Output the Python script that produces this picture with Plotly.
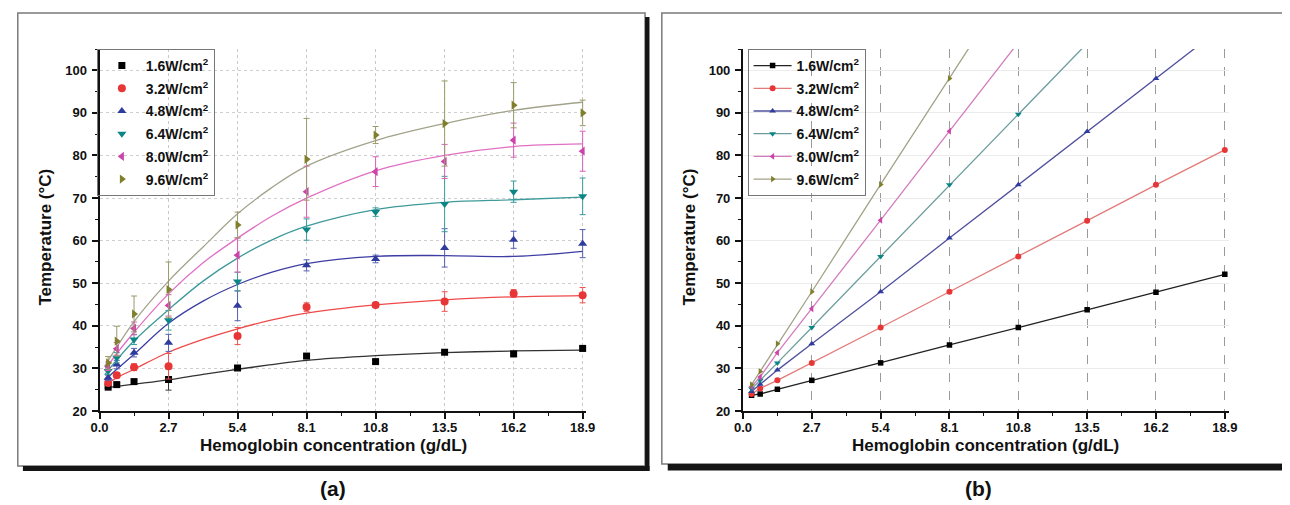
import plotly.graph_objects as go

W, H = 1290, 505
OX, OY = 8, 8          # page body margin offset of the plot div
FONT = "Liberation Sans, Arial, sans-serif"

# ---------------- data ----------------
hb = [0.3375, 0.675, 1.35, 2.7, 5.4, 8.1, 10.8, 13.5, 16.2, 18.9]
labels = ["1.6W/cm<sup>2</sup>", "3.2W/cm<sup>2</sup>", "4.8W/cm<sup>2</sup>",
          "6.4W/cm<sup>2</sup>", "8.0W/cm<sup>2</sup>", "9.6W/cm<sup>2</sup>"]
x_ticks = [0.0, 2.7, 5.4, 8.1, 10.8, 13.5, 16.2, 18.9]
x_ticktext = ["0.0", "2.7", "5.4", "8.1", "10.8", "13.5", "16.2", "18.9"]
y_ticks = [20, 30, 40, 50, 60, 70, 80, 90, 100]
y_ticktext = ["20", "30", "40", "50", "60", "70", "80", "90", "100"]

# panel (a): measured temperatures
a_16 = [25.6, 26.2, 26.9, 27.4, 30.1, 32.9, 31.6, 33.8, 33.4, 34.7]
a_32 = [26.6, 28.4, 30.3, 30.5, 37.6, 44.4, 44.9, 45.7, 47.6, 47.2]
a_48 = [27.8, 30.9, 33.7, 36.0, 44.7, 54.2, 55.7, 58.3, 60.2, 59.3]
a_64 = [29.4, 32.5, 36.8, 41.3, 50.4, 62.6, 66.7, 68.6, 71.5, 70.4]
a_80 = [30.5, 34.6, 39.4, 44.8, 56.6, 71.5, 76.2, 78.6, 83.6, 81.0]
a_96 = [31.3, 36.4, 42.8, 48.5, 63.7, 79.1, 84.8, 87.5, 91.8, 90.0]
# panel (a): error bars
e_16 = [0.4, 0.4, 0.5, 2.5, 0.4, 0.5, 0.5, 0.5, 0.5, 0.6]
e_32 = [0.5, 0.6, 0.8, 3.0, 2.0, 1.0, 0.6, 2.3, 0.9, 1.8]
e_48 = [0.6, 1.0, 1.0, 2.0, 3.5, 1.3, 0.9, 4.5, 2.0, 3.3]
e_64 = [0.8, 1.2, 1.2, 2.3, 2.2, 2.5, 1.0, 6.5, 2.5, 4.3]
e_80 = [1.0, 1.5, 1.5, 2.5, 4.0, 6.0, 3.5, 4.0, 4.0, 4.7]
e_96 = [1.5, 3.5, 4.2, 6.5, 3.0, 9.6, 2.0, 10.0, 5.3, 3.0]
# panel (a): fitted curves
fit_x = [0.2, 0.675, 1.35, 2.7, 4.05, 5.4, 6.75, 8.1, 10.8, 13.5, 16.2, 18.9]
f_16 = [25.4, 25.8, 26.3, 27.3, 28.6, 29.8, 30.9, 31.9, 33.0, 33.7, 34.1, 34.3]
f_32 = [26.0, 27.8, 29.8, 33.8, 36.8, 39.3, 41.4, 43.0, 44.9, 46.1, 46.8, 47.1]
f_48 = [27.2, 29.8, 33.3, 40.6, 45.8, 49.7, 52.6, 54.6, 56.3, 56.5, 56.3, 57.5]
f_64 = [28.5, 32.0, 36.5, 43.8, 50.5, 55.9, 60.2, 63.4, 67.3, 69.0, 69.6, 70.2]
f_80 = [29.5, 33.5, 38.5, 47.5, 54.8, 60.6, 65.8, 70.0, 76.4, 80.0, 82.1, 82.7]
f_96 = [30.5, 35.0, 41.0, 50.5, 58.5, 66.3, 72.5, 77.5, 83.5, 87.5, 90.6, 92.5]

# panel (b): calculated temperatures
b_16 = [23.7, 24.0, 25.1, 27.2, 31.3, 35.5, 39.6, 43.8, 47.9, 52.1]
b_32 = [24.0, 25.3, 27.2, 31.3, 39.6, 48.0, 56.3, 64.7, 73.1, 81.3]
b_48 = [24.6, 26.3, 29.6, 35.8, 48.0, 60.6, 73.1, 85.6, 98.1, 110.6]
b_64 = [25.2, 27.2, 31.3, 39.6, 56.3, 73.1, 89.7, 106.4, 123.0, 139.7]
b_80 = [25.7, 28.0, 33.7, 44.0, 64.8, 85.7, 106.5, 127.3, 148.2, 169.0]
b_96 = [26.2, 29.3, 35.8, 48.0, 73.2, 98.1, 123.0, 148.0, 173.0, 198.0]

a_series = [a_16, a_32, a_48, a_64, a_80, a_96]
e_series = [e_16, e_32, e_48, e_64, e_80, e_96]
f_series = [f_16, f_32, f_48, f_64, f_80, f_96]
b_series = [b_16, b_32, b_48, b_64, b_80, b_96]

# ---------------- styles ----------------
symbols = ["square", "circle", "triangle-up", "triangle-down", "triangle-left", "triangle-right"]
mcolors = ["#000000", "#e83535", "#2f3c9e", "#0b8585", "#cc44aa", "#7f7f2c"]
fitcolors = ["#333333", "#ee4a4a", "#3d3da3", "#3e9a9a", "#e070c4", "#a3a38c"]
errcolors = ["#333333", "#ee5555", "#5560b0", "#3a9a9a", "#d860b8", "#9a9a6a"]
linecolors = ["#222222", "#e27a7a", "#50509e", "#6c9c9c", "#d47cbc", "#a2a288"]

FW, FH = W - OX, H - OY     # figure size (div starts at OX, OY in the page)
PT, PB = 49, 411            # page-pixel top / bottom of the plot areas

def px(x):
    return (x - OX) / FW

def py(y):
    return (PB - y) / (PB - PT)

fig = go.Figure()

for i in range(6):
    fig.add_trace(go.Scatter(
        x=fit_x, y=f_series[i], mode="lines",
        line=dict(color=fitcolors[i], width=1.3, shape="spline", smoothing=1.0),
        showlegend=False, hoverinfo="skip", xaxis="x", yaxis="y"))
for i in range(6):
    fig.add_trace(go.Scatter(
        x=hb, y=a_series[i], mode="markers", name="<b>" + labels[i] + "</b>",
        marker=dict(symbol=symbols[i], size=8 if i else 7, color=mcolors[i]),
        error_y=dict(type="data", array=e_series[i], visible=True, color=errcolors[i], thickness=1, width=3),
        cliponaxis=False, xaxis="x", yaxis="y", legend="legend", legendgroup="a%d" % i))
for i in range(6):
    fig.add_trace(go.Scatter(
        x=hb, y=b_series[i], mode="lines+markers", name="<b>" + labels[i] + "</b>",
        line=dict(color=linecolors[i], width=1.3),
        marker=dict(symbol=symbols[i], size=6 if i else 5.5, color=mcolors[i]),
        cliponaxis=True, xaxis="x2", yaxis="y2", legend="legend2", legendgroup="b%d" % i))

tickfont = dict(family=FONT, size=13, color="#111111")

def xaxis(domain, griddash, gridcolor, anchor):
    return dict(domain=domain, range=[0, 19.05], anchor=anchor,
                tickmode="array", tickvals=x_ticks, ticktext=["<b>%s</b>" % t for t in x_ticktext],
                ticks="outside", ticklen=6, tickwidth=1.5, tickcolor="#111", ticklabelstandoff=-3,
                minor=dict(ticks="outside", ticklen=3, tickwidth=1.3, tickcolor="#111",
                           tick0=0, dtick=1.35, showgrid=False),
                showline=True, linecolor="#111", linewidth=2,
                showgrid=True, gridcolor=gridcolor, griddash=griddash, gridwidth=1,
                zeroline=False, tickfont=tickfont)

def yaxis(anchor, griddash, gridcolor):
    return dict(domain=[0, 1], range=[20, 105], anchor=anchor,
                tickmode="array", tickvals=y_ticks, ticktext=["<b>%s</b>" % t for t in y_ticktext],
                ticks="outside", ticklen=6, tickwidth=1.5, tickcolor="#111", ticklabelstandoff=2,
                minor=dict(ticks="outside", ticklen=3, tickwidth=1.3, tickcolor="#111",
                           tick0=0, dtick=5, showgrid=False),
                showline=True, linecolor="#111", linewidth=2,
                showgrid=True, gridcolor=gridcolor, griddash=griddash, gridwidth=1,
                zeroline=False, tickfont=tickfont)

ux_a = (581.7 - 91.7) / 18.9
ux_b = (1233.0 - 744.3) / 18.9
dom_a = [px(91.7), px(91.7 + 19.05 * ux_a)]
dom_b = [px(744.3), px(744.3 + 19.05 * ux_b)]

legend_style = dict(font=dict(family=FONT, size=14, color="#111"), bgcolor="rgba(255,255,255,0)",
                    bordercolor="#777", borderwidth=1, xanchor="left", yanchor="top",
                    tracegroupgap=1.5, itemwidth=38)

shapes = [
    # frame (a)
    dict(type="rect", xref="paper", yref="paper", x0=px(8.8), x1=px(645), y0=py(13), y1=py(466),
         line=dict(color="#7a7a7a", width=1.5), layer="below"),
    dict(type="rect", xref="paper", yref="paper", x0=px(645), x1=px(649.5), y0=py(17), y1=py(471),
         line=dict(width=0), fillcolor="#151515", layer="below"),
    dict(type="rect", xref="paper", yref="paper", x0=px(14), x1=px(649.5), y0=py(466), y1=py(471),
         line=dict(width=0), fillcolor="#151515", layer="below"),
    # frame (b)
    dict(type="rect", xref="paper", yref="paper", x0=px(662), x1=px(1296), y0=py(13), y1=py(464),
         line=dict(color="#7a7a7a", width=1.5), layer="below"),
    dict(type="rect", xref="paper", yref="paper", x0=px(668), x1=px(1296), y0=py(464), y1=py(470.5),
         line=dict(width=0), fillcolor="#151515", layer="below"),
]

title_font = dict(family=FONT, size=17, color="#111")
lab_font = dict(family=FONT, size=21, color="#111")
annotations = [
    dict(text="<b>Hemoglobin concentration (g/dL)</b>", x=px(329), y=py(445), xref="paper", yref="paper",
         showarrow=False, xanchor="center", yanchor="middle", font=title_font),
    dict(text="<b>Hemoglobin concentration (g/dL)</b>", x=px(990), y=py(445), xref="paper", yref="paper",
         showarrow=False, xanchor="center", yanchor="middle", font=title_font),
    dict(text="<b>Temperature (°C)</b>", x=px(36), y=py(237), xref="paper", yref="paper", textangle=-90,
         showarrow=False, xanchor="center", yanchor="middle", font=title_font),
    dict(text="<b>Temperature (°C)</b>", x=px(690), y=py(237), xref="paper", yref="paper", textangle=-90,
         showarrow=False, xanchor="center", yanchor="middle", font=title_font),
    dict(text="<b>(a)</b>", x=px(328), y=py(488), xref="paper", yref="paper",
         showarrow=False, xanchor="center", yanchor="middle", font=lab_font),
    dict(text="<b>(b)</b>", x=px(983), y=py(488), xref="paper", yref="paper",
         showarrow=False, xanchor="center", yanchor="middle", font=lab_font),
]

fig.update_layout(
    width=FW, height=FH,
    margin=dict(l=0, r=0, t=PT - OY, b=H - PB, pad=0),
    paper_bgcolor="white", plot_bgcolor="rgba(0,0,0,0)",
    font=dict(family=FONT, size=13, color="#111"),
    xaxis=xaxis(dom_a, "dot", "#c9c9c9", "y"),
    yaxis=yaxis("x", "dot", "#cfcfcf"),
    xaxis2=xaxis(dom_b, "dash", "#9a9a9a", "y2"),
    yaxis2=yaxis("x2", "solid", "#ececec"),
    legend=dict(x=px(89), y=py(49), **legend_style),
    legend2=dict(x=px(749), y=py(49), **legend_style),
    shapes=shapes,
    annotations=annotations,
)

fig.write_html("out.html")
